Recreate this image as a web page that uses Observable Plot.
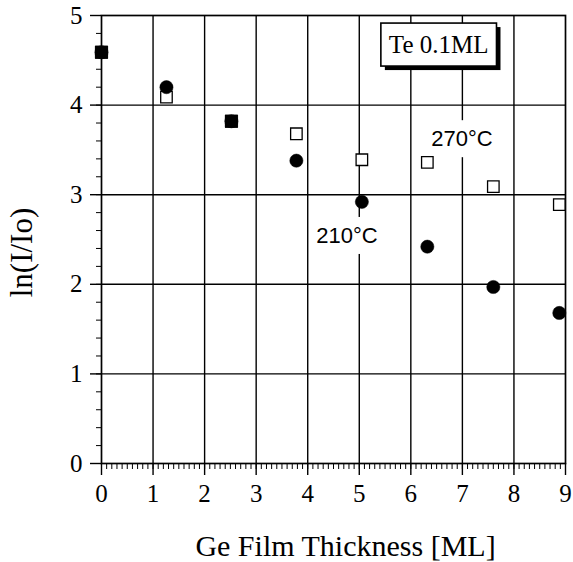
<!DOCTYPE html>
<html>
<head>
<meta charset="utf-8">
<script src="https://cdn.jsdelivr.net/npm/d3@7"></script>
<script src="https://cdn.jsdelivr.net/npm/@observablehq/plot@0.6"></script>
<style>
  html, body { margin: 0; padding: 0; background: white; }
  #chart svg { display: block; }
</style>
</head>
<body>
<div id="chart"></div>
<script>
// Ge film thickness [ML]
const thickness = [0, 1.26, 2.52, 3.78, 5.05, 6.32, 7.6, 8.88];
// ln(I/Io) at 270°C (open squares)
const ln270 = [4.59, 4.09, 3.82, 3.68, 3.39, 3.36, 3.09, 2.89];
// ln(I/Io) at 210°C (filled circles)
const ln210 = [4.59, 4.20, 3.82, 3.38, 2.92, 2.42, 1.97, 1.68];

const xTicks = [0, 1, 2, 3, 4, 5, 6, 7, 8, 9];
const yTicks = [0, 1, 2, 3, 4, 5];

const legendNote = [{label: "Te 0.1ML", x: 6.54, y: 4.67}];
const tempNotes = [
  {label: "270°C", x: 6.99, y: 3.62},
  {label: "210°C", x: 4.76, y: 2.54}
];

const rows = thickness.map((t, i) => ({t, a: ln270[i], b: ln210[i]}));
const both = rows.filter(d => d.a === d.b);
const serif = "'Liberation Serif', 'Times New Roman', serif";

const svg = Plot.plot({
  width: 573,
  height: 562,
  marginLeft: 101,
  marginRight: 8,
  marginTop: 15,
  marginBottom: 99,
  style: {fontFamily: serif, background: "white", overflow: "visible", color: "black"},
  x: {domain: [0, 9]},
  y: {domain: [0, 5]},
  marks: [
    Plot.gridX({ticks: xTicks.slice(1, -1), stroke: "black", strokeOpacity: 1, strokeWidth: 1.4}),
    Plot.gridY({ticks: yTicks.slice(1, -1), stroke: "black", strokeOpacity: 1, strokeWidth: 1.4}),
    Plot.axisX({ticks: d3.range(0, 9.001, 0.1), tickSize: 6, tickFormat: () => "", label: null, strokeWidth: 1}),
    Plot.axisY({ticks: d3.range(0, 5.001, 0.2), tickSize: 5, tickFormat: () => "", label: null, strokeWidth: 1}),
    Plot.axisX({ticks: xTicks, tickSize: 12, tickPadding: 9, fontSize: 25, fontFamily: serif, fontVariant: "normal", label: null, strokeWidth: 1.4, tickFormat: d3.format("d")}),
    Plot.axisY({ticks: yTicks, tickSize: 11, tickPadding: 8, fontSize: 25, fontFamily: serif, fontVariant: "normal", label: null, strokeWidth: 1.4, tickFormat: d3.format("d")}),
    Plot.frame({stroke: "black", strokeWidth: 1.7}),
    Plot.text(tempNotes, {x: "x", y: "y", text: "label", fontFamily: "'Liberation Sans', sans-serif", fontSize: 22, fill: "black", ariaDescription: "temp-labels"}),
    Plot.dot(rows, {x: "t", y: "a", symbol: "square", r: 6.5, fill: "white", stroke: "black", strokeWidth: 1.3}),
    Plot.dot(rows, {x: "t", y: "b", symbol: "circle", r: 6.6, fill: "black", stroke: "black", strokeWidth: 0.5}),
    Plot.dot(both, {x: "t", y: "a", symbol: "square", r: 7, fill: "black", stroke: "black", strokeWidth: 0.5}),
    Plot.text(legendNote, {x: "x", y: "y", text: "label", fontSize: 25, fontFamily: serif, fill: "black", ariaDescription: "legend-box"}),
    Plot.text(["Ge Film Thickness [ML]"], {frameAnchor: "bottom", textAnchor: "middle", lineAnchor: "middle", dx: 12, dy: 83, fontSize: 30, fontFamily: serif, fill: "black"}),
    Plot.text(["ln(I/Io)"], {frameAnchor: "left", textAnchor: "middle", lineAnchor: "middle", rotate: -90, dx: -79, dy: 13, fontSize: 31, fontFamily: serif, fill: "black"})
  ]
});

document.getElementById("chart").append(svg);

const NS = "http://www.w3.org/2000/svg";
function rectBefore(el, x, y, w, h, attrs) {
  const r = document.createElementNS(NS, "rect");
  r.setAttribute("x", x); r.setAttribute("y", y);
  r.setAttribute("width", w); r.setAttribute("height", h);
  const tr = el.getAttribute("transform");
  if (tr) r.setAttribute("transform", tr);
  for (const k in attrs) r.setAttribute(k, attrs[k]);
  el.parentNode.insertBefore(r, el);
  return r;
}
function marksFor(desc) {
  return Array.from(svg.querySelectorAll("g")).filter(g => g.getAttribute("aria-description") === desc);
}
marksFor("temp-labels").forEach(g => g.querySelectorAll("text").forEach(t => {
  const b = t.getBBox();
  rectBefore(t, b.x - 5, b.y - 6, b.width + 10, b.height + 12, {fill: "white"});
}));
marksFor("legend-box").forEach(g => g.querySelectorAll("text").forEach(t => {
  const b = t.getBBox();
  const px = 8, py = 8;
  rectBefore(t, b.x - px + 4, b.y - py + 4, b.width + 2 * px, b.height + 2 * py, {fill: "black"});
  rectBefore(t, b.x - px, b.y - py, b.width + 2 * px, b.height + 2 * py, {fill: "white", stroke: "black", "stroke-width": 1.6});
}));
</script>
</body>
</html>
